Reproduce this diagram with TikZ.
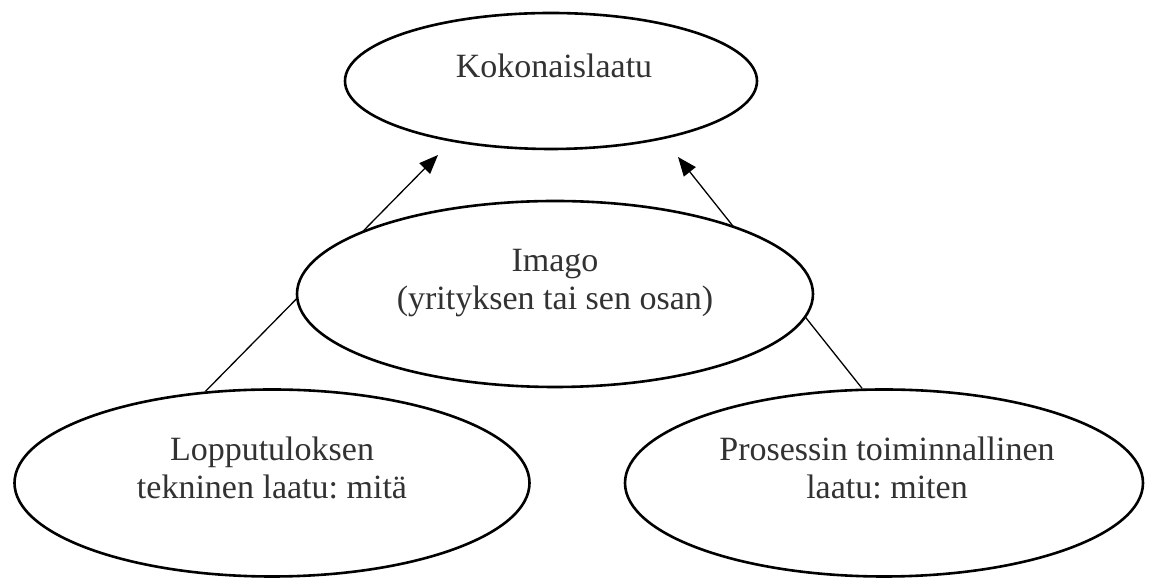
\documentclass[tikz,border=0pt]{standalone}
\usepackage{fontspec}
\setmainfont{Liberation Serif}
\usetikzlibrary{arrows.meta,shapes.geometric}
\definecolor{txtgray}{RGB}{50,50,50}
\frenchspacing
\tikzset{
  ell/.style={ellipse, draw=black, line width=2.6pt, fill=white, inner sep=0pt},
  lbl/.style={text=txtgray, align=center, inner sep=0pt,
    font=\fontsize{34pt}{38pt}\selectfont\frenchspacing},
  conn/.style={line width=1.3pt, -{Triangle[length=19pt,width=15pt]}}
}
\begin{document}
\begin{tikzpicture}[x=1pt,y=1pt]
\useasboundingbox (0,0) rectangle (1149,580);
\node[ell, minimum width=412pt, minimum height=136pt] (top) at (551,499) {};
\node[ell, minimum width=515pt, minimum height=187pt] (bl) at (272,97) {};
\node[ell, minimum width=518pt, minimum height=187pt] (br) at (884,97) {};
\coordinate (tipL) at (438,425);
\coordinate (tipR) at (678,423);
\draw[conn] (bl.126) -- (tipL);
\draw[conn] (br.103) -- (tipR);
\node[ell, minimum width=516pt, minimum height=186pt] (mid) at (555,286) {};
\node[lbl] (topt) at (554,514.6) {Kokonaislaatu};
\node[lbl] (midt) at (555,296.5) {Imago\\(yrityksen tai sen osan)};
\node[lbl] (blt) at (272,111.6) {Lopputuloksen\\tekninen laatu: mitä};
\node[lbl] (brt) at (887,111.6) {Prosessin toiminnallinen\\laatu: miten};
\end{tikzpicture}
\end{document}
